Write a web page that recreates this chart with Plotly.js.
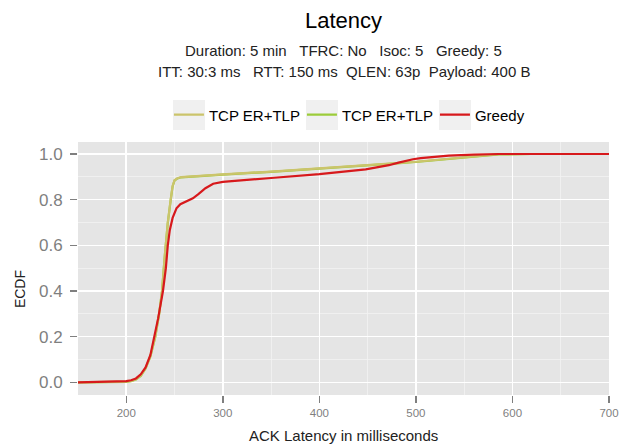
<!DOCTYPE html>
<html>
<head>
<meta charset="utf-8">
<script src="https://cdn.plot.ly/plotly-3.0.1.min.js"></script>
<style>html,body{margin:0;padding:0;background:#fff;}</style>
</head>
<body>
<div id="chart" style="width:619px;height:444px;"></div>
<script>
// ---- data ----
const seriesNames = ["TCP ER+TLP", "TCP ER+TLP", "Greedy"];

const tcpAX = [150, 195, 200, 205, 210, 215, 220, 225, 230, 234, 237, 240, 243, 246, 248, 250, 253, 257, 270, 300, 350, 400, 450, 480, 500, 530, 560, 586, 620, 700];
const tcpAY = [0, 0, 0.003, 0.006, 0.013, 0.03, 0.062, 0.115, 0.2, 0.3, 0.4, 0.56, 0.7, 0.8, 0.86, 0.885, 0.894, 0.899, 0.903, 0.911, 0.923, 0.936, 0.951, 0.96, 0.966, 0.978, 0.99, 0.999, 1, 1];

const tcpBX = [150, 195, 200, 205, 210, 215, 220, 225, 230, 234, 237, 240, 243, 246, 248, 250, 253, 257, 270, 300, 350, 400, 450, 480, 500, 530, 560, 586, 620, 700];
const tcpBY = [0, 0, 0.002, 0.005, 0.012, 0.028, 0.06, 0.113, 0.198, 0.298, 0.398, 0.558, 0.698, 0.798, 0.858, 0.884, 0.893, 0.898, 0.902, 0.91, 0.922, 0.935, 0.95, 0.959, 0.965, 0.977, 0.989, 0.998, 1, 1];

const greedyX = [150, 195, 200, 205, 210, 215, 220, 225, 229, 233, 238, 241, 243, 245, 248, 250, 252, 256, 263, 269, 275, 282, 290, 300, 350, 400, 448, 460, 472, 482, 490, 497, 505, 520, 534, 560, 586, 620, 700];
const greedyY = [0, 0.002, 0.005, 0.009, 0.017, 0.035, 0.065, 0.12, 0.2, 0.28, 0.4, 0.5, 0.6, 0.665, 0.72, 0.745, 0.762, 0.78, 0.794, 0.806, 0.825, 0.85, 0.87, 0.878, 0.895, 0.912, 0.933, 0.941, 0.951, 0.962, 0.971, 0.977, 0.982, 0.988, 0.993, 0.997, 1, 1, 1];

const xTicks = [200, 300, 400, 500, 600, 700];
const yTicks = [0, 0.2, 0.4, 0.6, 0.8, 1.0];
const yTickText = ["0.0", "0.2", "0.4", "0.6", "0.8", "1.0"];

const titleText = "Latency";
const sub1 = "Duration: 5 min\u00a0\u00a0\u00a0TFRC: No\u00a0\u00a0\u00a0Isoc: 5\u00a0\u00a0\u00a0Greedy: 5";
const sub2 = "ITT: 30:3 ms\u00a0\u00a0\u00a0RTT: 150 ms\u00a0\u00a0QLEN: 63p\u00a0\u00a0Payload: 400 B";
const xTitle = "ACK Latency in milliseconds";
const yTitle = "ECDF";

// ---- styling ----
const FONT = "Liberation Sans, Arial, Helvetica, sans-serif";
const colors = ["#cbc46b", "#9ccc3a", "#d7191c"];

const traces = [
  {x: tcpBX, y: tcpBY, name: seriesNames[1], legendrank: 2, mode: "lines", line: {color: colors[1], width: 2.2}},
  {x: tcpAX, y: tcpAY, name: seriesNames[0], legendrank: 1, mode: "lines", line: {color: colors[0], width: 2.2}},
  {x: greedyX, y: greedyY, name: seriesNames[2], legendrank: 3, mode: "lines", line: {color: colors[2], width: 2.2}}
];

// legend key background boxes (paper coordinates)
const keyBox = (x0, x1) => ({type: "rect", xref: "paper", yref: "paper", x0: x0, x1: x1, y0: 1.0474, y1: 1.166, fillcolor: "#f0f0f0", line: {width: 0}, layer: "below"});

const layout = {
  width: 619, height: 444,
  margin: {l: 78, r: 10, t: 142, b: 49},
  paper_bgcolor: "#ffffff",
  plot_bgcolor: "#e5e5e5",
  font: {family: FONT, color: "#000"},
  showlegend: true,
  title: {text: titleText, font: {family: FONT, size: 22, color: "#000"}, x: 0.5, xref: "paper", y: 0.955, yref: "container", yanchor: "middle"},
  xaxis: {
    range: [150, 700], tickvals: xTicks, ticks: "outside", ticklen: 7, tickwidth: 1.5, tickcolor: "#7f7f7f",
    tickfont: {family: FONT, size: 11.5, color: "#7f7f7f"},
    showgrid: true, gridcolor: "#ffffff", gridwidth: 1.6, zeroline: false, showline: false,
    minor: {dtick: 50, tick0: 0, showgrid: true, gridcolor: "#f2f2f2", gridwidth: 0.8, ticks: ""}
  },
  yaxis: {
    range: [-0.0556, 1.0526], tickvals: yTicks, ticktext: yTickText, ticks: "outside", ticklen: 7, tickwidth: 1.5, tickcolor: "#7f7f7f",
    tickfont: {family: FONT, size: 17, color: "#7f7f7f"}, ticklabelstandoff: 4,
    showgrid: true, gridcolor: "#ffffff", gridwidth: 1.6, zeroline: false, showline: false,
    minor: {dtick: 0.1, tick0: 0, showgrid: true, gridcolor: "#f2f2f2", gridwidth: 0.8, ticks: ""}
  },
  legend: {
    orientation: "h", x: 0.547, xanchor: "center", y: 1.107, yanchor: "middle",
    font: {family: FONT, size: 15, color: "#000"}, bgcolor: "rgba(0,0,0,0)",
    itemwidth: 30, entrywidth: 88, traceorder: "normal"
  },
  shapes: [keyBox(0.1789, 0.2392), keyBox(0.4294, 0.4896), keyBox(0.6798, 0.7401)],
  annotations: [
    {text: sub1, xref: "paper", yref: "paper", x: 0.5, y: 1.361, xanchor: "center", yanchor: "middle", showarrow: false, font: {family: FONT, size: 15, color: "#222"}},
    {text: sub2, xref: "paper", yref: "paper", x: 0.5, y: 1.277, xanchor: "center", yanchor: "middle", showarrow: false, font: {family: FONT, size: 15, color: "#222"}},
    {text: xTitle, xref: "paper", yref: "paper", x: 0.5, y: -0.162, xanchor: "center", yanchor: "middle", showarrow: false, font: {family: FONT, size: 15, color: "#222"}},
    {text: yTitle, xref: "paper", yref: "paper", x: -0.109, y: 0.419, xanchor: "center", yanchor: "middle", textangle: -90, showarrow: false, font: {family: FONT, size: 14, color: "#222"}}
  ]
};

Plotly.newPlot("chart", traces, layout, {displayModeBar: false, staticPlot: true});
</script>
</body>
</html>
